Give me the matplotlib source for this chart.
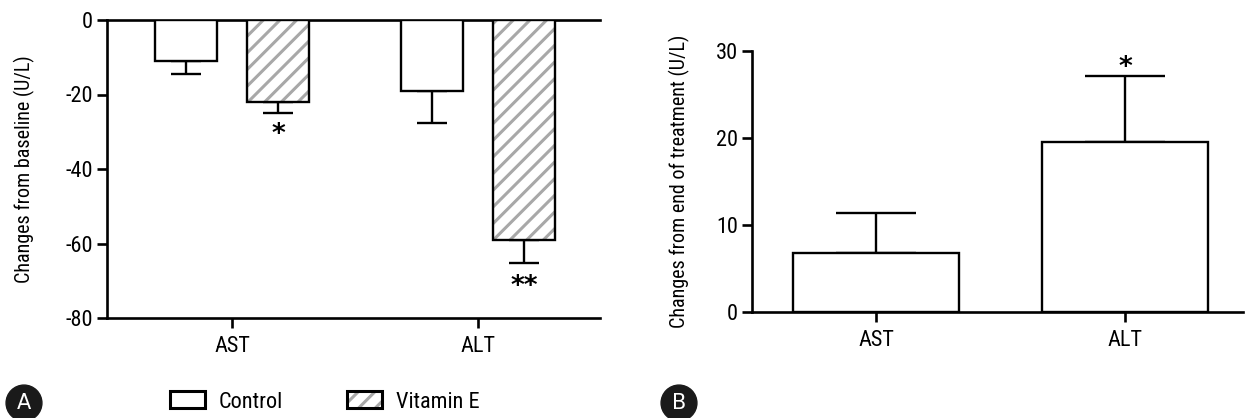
import matplotlib
matplotlib.use("Agg")
import matplotlib.pyplot as plt
import numpy as np
from matplotlib.patches import Patch
from matplotlib.legend_handler import HandlerTuple
from matplotlib import font_manager

# ---- data ----
categories = ["AST", "ALT"]
control_change = [-11, -19]
control_err = [3.6, 8.6]
vite_change = [-22, -59]
vite_err = [3.0, 6.3]
a_stars = ["*", "**"]
a_star_y = [-31.0, -71.8]

b_change = [6.8, 19.5]
b_err = [4.55, 7.6]
b_stars = ["", "*"]
b_star_y = [None, 28.1]

a_yticks = [0, -20, -40, -60, -80]
b_yticks = [0, 10, 20, 30]

# font
fonts = font_manager.fontManager.ttflist
names = {f.name for f in fonts}
fam = None
for cand in ["Roboto Condensed", "Open Sans Condensed", "Liberation Sans Narrow", "Noto Sans Condensed"]:
    if cand in names:
        fam = cand
        break
stretch = "normal"
if fam is None:
    for f in fonts:
        if f.name in ("Noto Sans", "Open Sans", "Roboto") and str(f.stretch) in ("condensed", "semi-condensed"):
            fam = f.name
            stretch = f.stretch
            break
if fam is None:
    fam = "Open Sans" if "Open Sans" in names else "DejaVu Sans"
plt.rcParams['font.family'] = [fam, "DejaVu Sans"]
plt.rcParams['font.stretch'] = stretch
plt.rcParams['axes.unicode_minus'] = False
plt.rcParams['hatch.linewidth'] = 2.2

fig = plt.figure(figsize=(12.46, 4.18), dpi=100)
W, H = 1246, 418

def ax_rect(l, r, t, b):
    return [l / W, 1 - b / H, (r - l) / W, (b - t) / H]

LW = 1.9
BLW = 1.7
gray = "#a8a8a8"
TS = 16
LS = 14.5
SS = 19

# ---- Panel A ----
axA = fig.add_axes(ax_rect(107, 600, 20, 318))
x = np.arange(len(categories))
off, bw = 0.187, 0.252
axA.bar(x - off, control_change, bw, color="white", edgecolor="black", linewidth=BLW, zorder=3)
axA.errorbar(x - off, control_change, yerr=[control_err, [0, 0]], fmt="none",
             ecolor="black", elinewidth=BLW, capsize=11, capthick=BLW, zorder=2)
axA.bar(x + off, vite_change, bw, color="white", edgecolor=gray, hatch="//", linewidth=0, zorder=3)
axA.bar(x + off, vite_change, bw, fill=False, edgecolor="black", linewidth=BLW, zorder=4)
axA.errorbar(x + off, vite_change, yerr=[vite_err, [0, 0]], fmt="none",
             ecolor="black", elinewidth=BLW, capsize=11, capthick=BLW, zorder=2)
for xi, s, yv in zip(x + off, a_stars, a_star_y):
    axA.text(xi, yv, s, ha="center", va="center", fontsize=SS, fontweight="bold",
             family="DejaVu Sans")
axA.set_xlim(-0.508, 1.496)
axA.set_ylim(-80, 0)
axA.set_yticks(a_yticks)
axA.set_xticks(x)
axA.set_xticklabels(categories)
axA.set_ylabel("Changes from baseline (U/L)", fontsize=LS, labelpad=22)
axA.spines["right"].set_visible(False)
for sp in ["top", "left", "bottom"]:
    axA.spines[sp].set_linewidth(LW)
axA.tick_params(axis="both", width=LW, length=7, labelsize=TS, pad=3)
axA.tick_params(axis="x", pad=6)

# legend for A
h_ctrl = Patch(facecolor="white", edgecolor="black", linewidth=2.2)
h_ve_fill = Patch(facecolor="white", edgecolor=gray, hatch="//", linewidth=0)
h_ve_edge = Patch(fill=False, edgecolor="black", linewidth=2.2)
fig.legend([h_ctrl, (h_ve_fill, h_ve_edge)], ["Control", "Vitamin E"],
           handler_map={tuple: HandlerTuple(ndivide=1, pad=0)},
           loc="center left", bbox_to_anchor=(170 / W, 1 - 402 / H), ncol=2,
           frameon=False, fontsize=TS, handlelength=1.58, handleheight=0.8,
           columnspacing=2.9, handletextpad=0.6, borderaxespad=0, borderpad=0)

# ---- Panel B ----
axB = fig.add_axes(ax_rect(752, 1243, 51, 312))
axB.bar(x, b_change, 0.667, color="white", edgecolor="black", linewidth=BLW, zorder=3)
axB.errorbar(x, b_change, yerr=[[0, 0], b_err], fmt="none",
             ecolor="black", elinewidth=BLW, capsize=29, capthick=BLW, zorder=2)
for xi, s, yv in zip(x, b_stars, b_star_y):
    if s:
        axB.text(xi, yv, s, ha="center", va="center", fontsize=SS, fontweight="bold",
                 family="DejaVu Sans")
axB.set_xlim(-0.498, 1.474)
axB.set_ylim(0, 30)
axB.set_yticks(b_yticks)
axB.set_xticks(x)
axB.set_xticklabels(categories)
axB.set_ylabel("Changes from end of treatment (U/L)", fontsize=LS, labelpad=19)
axB.spines["top"].set_visible(False)
axB.spines["right"].set_visible(False)
axB.spines["left"].set_linewidth(LW)
axB.spines["bottom"].set_linewidth(LW)
axB.tick_params(axis="both", width=LW, length=7, labelsize=TS, pad=3)
axB.tick_params(axis="x", pad=6)

# panel letters
for lx, letter in [(24, "A"), (679, "B")]:
    fig.text(lx / W, 1 - 403 / H, letter, ha="center", va="center", color="white",
             fontsize=15, family="DejaVu Sans",
             bbox=dict(boxstyle="circle,pad=0.38", facecolor="#1a1a1a", edgecolor="#1a1a1a"))

fig.savefig("out.png", dpi=100)
